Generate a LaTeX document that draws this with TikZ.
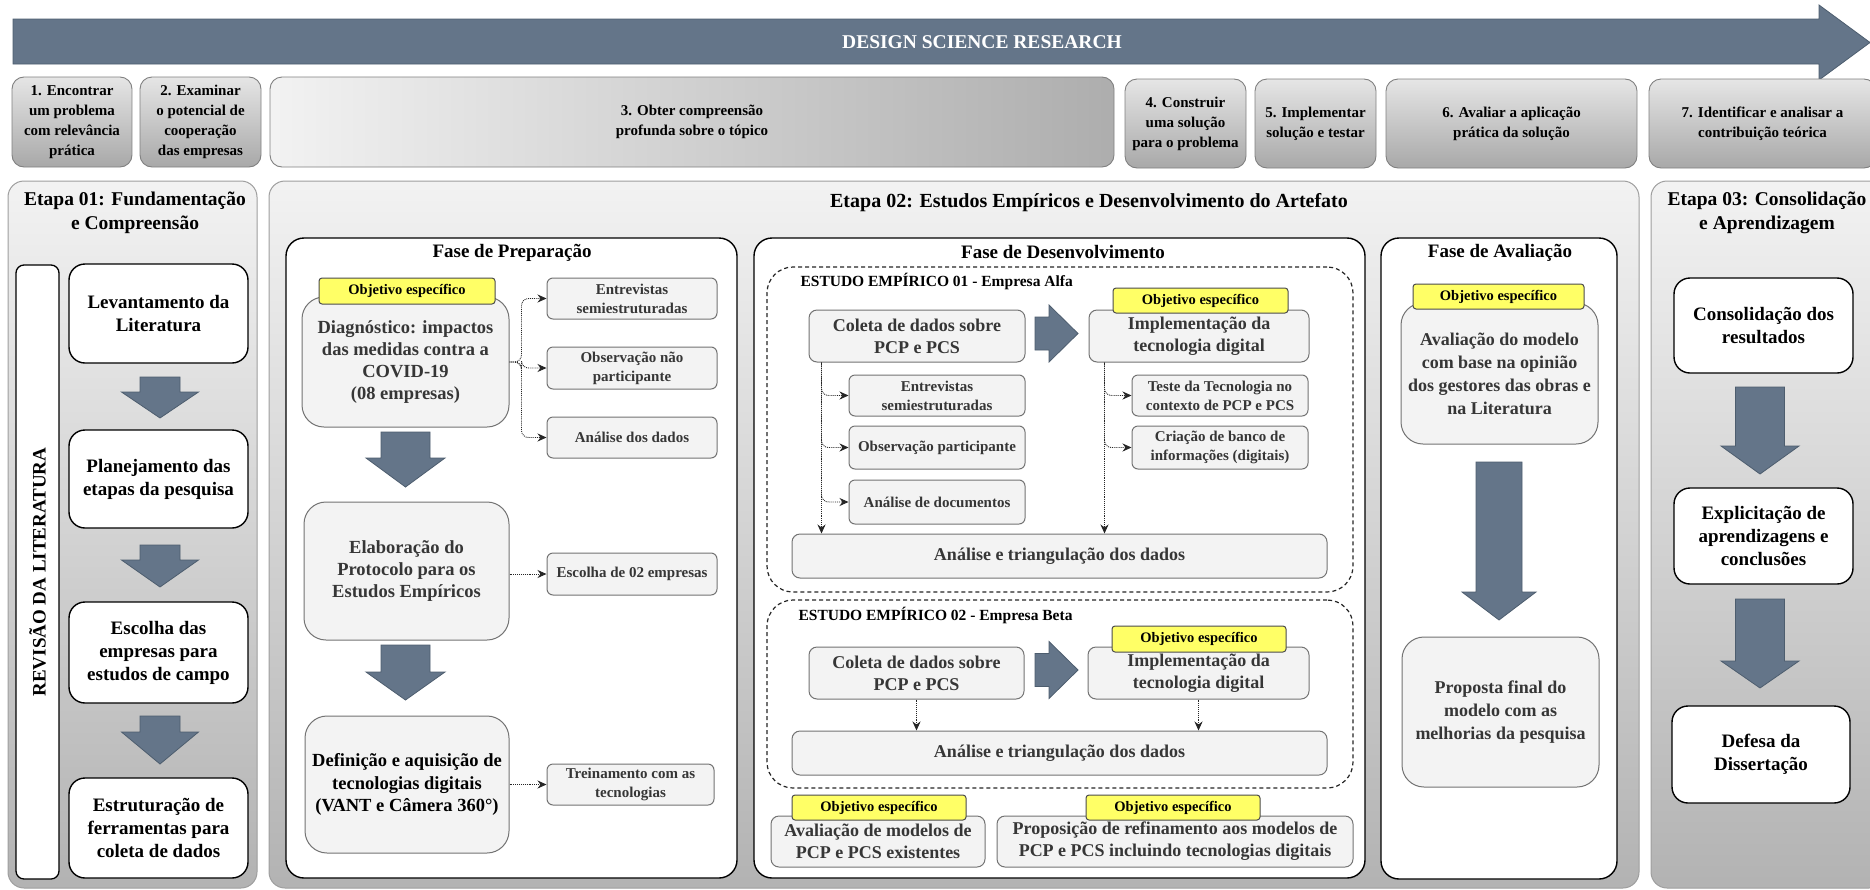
\documentclass[tikz,border=0pt]{standalone}
\usepackage{fontspec}
\setmainfont{Liberation Serif}
\usetikzlibrary{arrows.meta,calc}

\definecolor{slate}{HTML}{647589}
\definecolor{slateedge}{HTML}{4D5D6E}
\definecolor{tagyellow}{HTML}{FFFF66}
\definecolor{boxgray}{HTML}{F3F3F3}
\definecolor{txtgray}{HTML}{363636}

% bold text of a given size and leading
\newcommand\fs[2]{\fontsize{#1}{#2}\selectfont\bfseries}

% node from its corner coordinates: name, x1, y1, x2, y2, style, text
\newcommand\placebox[7]{%
  \node[#6, minimum width={(#4)-(#2)}, minimum height={(#5)-(#3)}] (#1)
    at ({((#2)+(#4))/2},{((#3)+(#5))/2}) {#7};}

% block arrow pointing down: cx, top, shoulder, tip, body half width, head half width
\newcommand\downblock[6]{%
  \path[blockarrow] ({#1-#5},#2) -- ({#1+#5},#2) -- ({#1+#5},#3) -- ({#1+#6},#3)
    -- (#1,#4) -- ({#1-#6},#3) -- ({#1-#5},#3) -- cycle;}

% block arrow pointing right: cy, left, shoulder, tip, body half height, head half height
\newcommand\rightblock[6]{%
  \path[blockarrow] (#2,{#1-#5}) -- (#3,{#1-#5}) -- (#3,{#1-#6}) -- (#4,#1)
    -- (#3,{#1+#6}) -- (#3,{#1+#5}) -- (#2,{#1+#5}) -- cycle;}

\begin{document}
\begin{tikzpicture}[x=1pt,y=-1pt,
  blockarrow/.style={fill=slate, draw=slateedge, line width=0.8pt},
  topv/.style={draw=black!50, line width=0.9pt, rounded corners=12pt,
    top color=black!10, bottom color=black!34, align=center, font=\fs{15}{20}, inner sep=2pt},
  toph/.style={draw=black!50, line width=0.9pt, rounded corners=12pt,
    left color=black!5, right color=black!32, align=center, font=\fs{15}{20}, inner sep=2pt},
  etapa/.style={draw=black!38, line width=1pt, rounded corners=16pt,
    top color=black!5, bottom color=black!30},
  fase/.style={draw=black, line width=1.4pt, fill=white, rounded corners=18pt},
  wbox/.style={draw=black, line width=1.4pt, fill=white, rounded corners=16pt,
    align=center, font=\fs{19}{23}, inner sep=2pt},
  gbig/.style={draw=black!55, line width=1pt, fill=boxgray, rounded corners=22pt,
    align=center, text=txtgray, font=\fs{18.5}{22.3}, inner sep=2pt},
  gmid/.style={draw=black!55, line width=1pt, fill=boxgray, rounded corners=8pt,
    align=center, text=txtgray, font=\fs{18}{22}, inner sep=2pt},
  gsmall/.style={draw=black!55, line width=1pt, fill=boxgray, rounded corners=6pt,
    align=center, text=txtgray, font=\fs{15}{19}, inner sep=2pt},
  tag/.style={draw=black!70, line width=1pt, fill=tagyellow, rounded corners=3pt,
    font=\fs{14.5}{17}, inner sep=1pt},
  dashbox/.style={draw=black!85, line width=1.2pt, dash pattern=on 4pt off 3pt,
    rounded corners=26pt},
  dotarrow/.style={draw=black!85, line width=0.9pt, densely dotted,
    -{Stealth[length=9pt,width=8pt]}, rounded corners=7pt},
  title/.style={font=\fs{19.5}{24.5}, align=center}
]
\useasboundingbox (0,0) rectangle (1870,889);

% ---------- Design Science Research banner ----------
\path[blockarrow] (13,19) -- (1819,19) -- (1819,5) -- (1870,42.5) -- (1819,80)
  -- (1819,64) -- (13,64) -- cycle;
\node[font=\fs{19.5}{22}, text=white] (dsr) at (982,42) {DESIGN SCIENCE RESEARCH};

% ---------- DSR steps ----------
\placebox{t1}{12}{77}{132}{167}{topv}{1. Encontrar\\um problema\\com relevância\\prática}
\placebox{t2}{140}{77}{261}{167}{topv}{2. Examinar\\o potencial de\\cooperação\\das empresas}
\placebox{t3}{270}{77}{1114}{167}{toph}{3. Obter compreensão\\profunda sobre o tópico}
\placebox{t4}{1125}{79}{1246}{168}{topv}{4. Construir\\uma solução\\para o problema}
\placebox{t5}{1255}{79}{1376}{168}{topv}{5. Implementar\\solução e testar}
\placebox{t6}{1386}{79}{1637}{168}{topv}{6. Avaliar a aplicação\\prática da solução}
\placebox{t7}{1649}{79}{1876}{168}{topv}{7. Identificar e analisar a\\contribuição teórica}

% ---------- Stage panels ----------
\placebox{e1}{8}{181}{257}{888}{etapa}{}
\placebox{e2}{269}{181}{1639}{888}{etapa}{}
\placebox{e3}{1651}{181}{1885}{888}{etapa}{}
\node[title] (e1t) at (135,213) {Etapa 01: Fundamentação\\e Compreensão};
\node[title, font=\fs{20}{24}] (e2t) at (1089,203) {Etapa 02: Estudos Empíricos e Desenvolvimento do Artefato};
\node[title] (e3t) at (1767,213) {Etapa 03: Consolidação\\e Aprendizagem};

% ---------- Stage 01 ----------
\node[draw=black, line width=1.3pt, fill=white, rounded corners=8pt, rotate=90,
  minimum width=614, minimum height=43, font=\fs{19}{22}] (rev) at (37.5,572) {REVISÃO DA LITERATURA};
\placebox{b1}{69}{264}{248}{363}{wbox}{Levantamento da\\Literatura}
\placebox{b2}{69}{430}{248}{528}{wbox}{Planejamento das\\etapas da pesquisa}
\placebox{b3}{69}{602}{248}{703}{wbox}{Escolha das\\empresas para\\estudos de campo}
\placebox{b4}{69}{778}{248}{878}{wbox}{Estruturação de\\ferramentas para\\coleta de dados}
\downblock{160}{377}{392}{418}{20}{38.5}
\downblock{160}{545}{560}{587}{20}{38.5}
\downblock{160}{716}{732}{764}{20}{38.5}

% ---------- Stage 02: preparation phase ----------
\placebox{fp}{286}{238}{737}{878}{fase}{}
\node[title, font=\fs{19}{23}] (fpt) at (512,253) {Fase de Preparação};
\placebox{diag}{302}{297}{509}{427}{gbig}{Diagnóstico: impactos\\das medidas contra a\\COVID-19\\(08 empresas)}
\placebox{tg1}{319}{278}{495}{304}{tag}{Objetivo específico}
\placebox{pent}{547}{278}{717}{319}{gsmall}{Entrevistas\\semiestruturadas}
\placebox{pobs}{547}{347}{717}{389}{gsmall}{Observação não\\participante}
\placebox{pana}{547}{417}{717}{458}{gsmall}{Análise dos dados}
\placebox{elab}{304}{502}{509}{640}{gbig}{Elaboração do\\Protocolo para os\\Estudos Empíricos}
\placebox{pesc}{547}{553}{717}{595}{gsmall}{Escolha de 02 empresas}
\placebox{def}{305}{716}{509}{853}{gbig, text=black}{Definição e aquisição de\\tecnologias digitais\\(VANT e Câmera 360°)}
\placebox{ptre}{547}{764}{714}{805}{gsmall}{Treinamento com as\\tecnologias}
\downblock{405.5}{432}{458}{487}{24.5}{39.5}
\downblock{405.5}{645}{672}{700}{24.5}{39.5}
\draw[dotarrow] (diag.east) -- ++(12,0) |- (pent.west);
\draw[dotarrow] (diag.east) -- ++(12,0) |- (pobs.west);
\draw[dotarrow] (diag.east) -- ++(12,0) |- (pana.west);
\draw[dotarrow] (pesc.west -| elab.east) -- (pesc.west);
\draw[dotarrow] (def.east) -- (ptre.west);

% ---------- Stage 02: development phase ----------
\placebox{fd}{754}{238}{1365}{878}{fase}{}
\node[title, font=\fs{19}{23}] (fdt) at (1063,252) {Fase de Desenvolvimento};

\placebox{st1}{767}{267}{1353}{592}{dashbox}{}
\node[anchor=west, font=\fs{15.5}{18}] (st1t) at (797,281) {ESTUDO EMPÍRICO 01 - Empresa Alfa};
\placebox{col1}{809}{310}{1025}{362}{gmid}{Coleta de dados sobre\\PCP e PCS}
\placebox{imp1}{1089}{310}{1309}{362}{gmid}{Implementação da\\tecnologia digital}
\placebox{tg2}{1113}{288}{1288}{313}{tag}{Objetivo específico}
\placebox{sent}{849}{375}{1025}{416}{gsmall}{Entrevistas\\semiestruturadas}
\placebox{sobs}{849}{426}{1025}{469}{gsmall}{Observação participante}
\placebox{sdoc}{849}{480}{1025}{524}{gsmall}{Análise de documentos}
\placebox{stes}{1132}{375}{1308}{416}{gsmall}{Teste da Tecnologia no\\contexto de PCP e PCS}
\placebox{scri}{1132}{426}{1308}{469}{gsmall}{Criação de banco de\\informações (digitais)}
\placebox{ana1}{792}{534}{1327}{578}{gmid}{Análise e triangulação dos dados}
\rightblock{333.5}{1035}{1049}{1078}{16.5}{28.5}
\coordinate (lt) at ([xshift=13pt]col1.south west);
\coordinate (rt) at ([xshift=16pt]imp1.south west);
\draw[dotarrow] (lt) |- (sent.west);
\draw[dotarrow] (lt) |- (sobs.west);
\draw[dotarrow] (lt) |- (sdoc.west);
\draw[dotarrow] (lt) -- (lt |- ana1.north);
\draw[dotarrow] (rt) |- (stes.west);
\draw[dotarrow] (rt) |- (scri.west);
\draw[dotarrow] (rt) -- (rt |- ana1.north);

\placebox{st2}{767}{600}{1353}{788}{dashbox}{}
\node[anchor=west, font=\fs{15.5}{18}] (st2t) at (795,615) {ESTUDO EMPÍRICO 02 - Empresa Beta};
\placebox{col2}{809}{647}{1024}{699}{gmid}{Coleta de dados sobre\\PCP e PCS}
\placebox{imp2}{1088}{647}{1309}{699}{gmid}{Implementação da\\tecnologia digital}
\placebox{tg3}{1112}{626}{1286}{652}{tag}{Objetivo específico}
\placebox{ana2}{792}{731}{1327}{775}{gmid}{Análise e triangulação dos dados}
\rightblock{670}{1035}{1049}{1078}{16.5}{28.5}
\draw[dotarrow] (col2.south) -- (col2.south |- ana2.north);
\draw[dotarrow] (imp2.south) -- (imp2.south |- ana2.north);

\placebox{aval}{771}{816}{985}{867}{gmid}{Avaliação de modelos de\\PCP e PCS existentes}
\placebox{tg4}{792}{795}{966}{820}{tag}{Objetivo específico}
\placebox{prop}{997}{816}{1353}{867}{gmid}{Proposição de refinamento aos modelos de\\PCP e PCS incluindo tecnologias digitais}
\placebox{tg5}{1086}{795}{1260}{820}{tag}{Objetivo específico}

% ---------- Stage 02: evaluation phase ----------
\placebox{fa}{1381}{238}{1617}{879}{fase}{}
\node[title, font=\fs{19}{23}] (fat) at (1500,253) {Fase de Avaliação};
\placebox{avm}{1401}{303}{1598}{444}{gbig, font=\fs{18}{23}}{Avaliação do modelo\\com base na opinião\\dos gestores das obras e\\na Literatura}
\placebox{tg6}{1413}{284}{1584}{309}{tag}{Objetivo específico}
\placebox{prf}{1402}{637}{1599}{787}{gbig, font=\fs{18}{23}}{Proposta final do\\modelo com as\\melhorias da pesquisa}
\downblock{1499}{462}{592}{620}{23}{37}

% ---------- Stage 03 ----------
\placebox{c1}{1674}{278}{1853}{373}{wbox}{Consolidação dos\\resultados}
\placebox{c2}{1674}{488}{1853}{584}{wbox}{Explicitação de\\aprendizagens e\\conclusões}
\placebox{c3}{1672}{706}{1850}{803}{wbox}{Defesa da\\Dissertação}
\downblock{1760}{387}{446}{474}{24.5}{39}
\downblock{1760}{599}{661}{688}{24.5}{39}
\end{tikzpicture}
\end{document}
